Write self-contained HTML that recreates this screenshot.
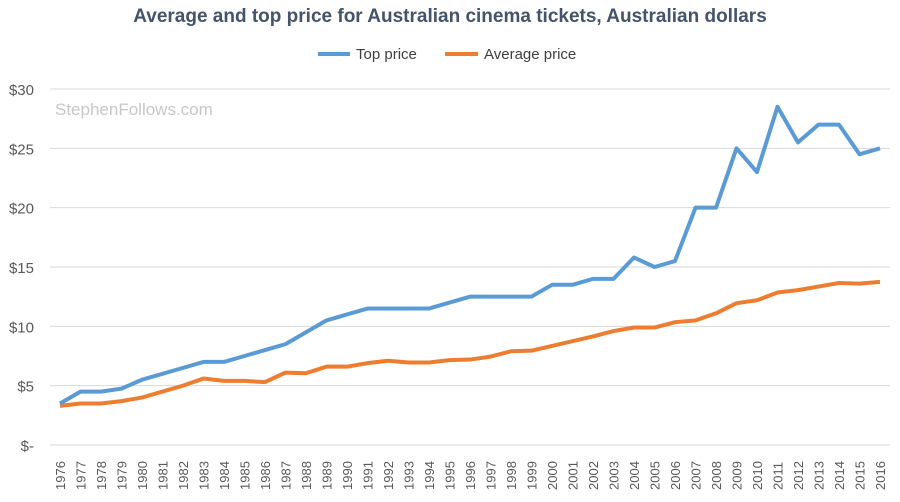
<!DOCTYPE html>
<html><head><meta charset="utf-8"><style>
body{margin:0;background:#fff;font-family:"Liberation Sans",sans-serif;}
</style></head><body>
<svg id="chart" width="900" height="497">
<text x="450" y="22" text-anchor="middle" font-size="19" font-weight="bold" fill="#44546a">Average and top price for Australian cinema tickets, Australian dollars</text>
<g>
<g><line x1="318" y1="54" x2="350" y2="54" stroke="#5b9bd5" stroke-width="4"/><text x="356" y="59" font-size="15" fill="#404040">Top price</text></g>
<g><line x1="445" y1="54" x2="478" y2="54" stroke="#ed7d31" stroke-width="4"/><text x="484" y="59" font-size="15" fill="#404040">Average price</text></g>
</g>
<text x="55" y="115" font-size="17" fill="#c8c8c8">StephenFollows.com</text>
<g id="grid"></g><g id="yt"></g><g id="xt"></g><g id="series"></g>
</svg>
<script>
const years=[];for(let y=1976;y<=2016;y++)years.push(y);
const topPrice=[3.5,4.5,4.5,4.75,5.5,6,6.5,7,7,7.5,8,8.5,9.5,10.5,11,11.5,11.5,11.5,11.5,12,12.5,12.5,12.5,12.5,13.5,13.5,14,14,15.8,15,15.5,20,20,25,23,28.5,25.5,27,27,24.5,25];
const avgPrice=[3.3,3.5,3.5,3.7,4,4.5,5,5.6,5.4,5.4,5.3,6.1,6.05,6.6,6.6,6.9,7.1,6.95,6.95,7.15,7.2,7.45,7.9,7.95,8.35,8.75,9.15,9.6,9.9,9.9,10.35,10.5,11.1,11.95,12.2,12.85,13.05,13.35,13.65,13.6,13.75];
const yTicks=[0,5,10,15,20,25,30];
const yLabels=["$-","$5","$10","$15","$20","$25","$30"];
const NS="http://www.w3.org/2000/svg";
const x=i=>60+i*(820/40);
const y=v=>445-v*(356/30);
function mk(t,a,p){const e=document.createElementNS(NS,t);for(const k in a)e.setAttribute(k,a[k]);document.getElementById(p).appendChild(e);return e;}
yTicks.forEach((v,i)=>{
 const g=mk('line',{x1:50,x2:890,y1:y(v),y2:y(v),stroke:'#d9d9d9','stroke-width':1},'grid');
 
 
 const t=mk('text',{x:34,y:y(v)+6,'text-anchor':'end','font-size':15,fill:'#595959'},'yt');
 t.textContent=yLabels[i];
 
 
});
years.forEach((yr,i)=>{
 const t=mk('text',{transform:`translate(${x(i)+5},490) rotate(-90)`,'font-size':13,fill:'#595959'},'xt');
 t.textContent=yr;
 
 
});
function line(d,c,n){
 const p=mk('polyline',{points:d.map((v,i)=>x(i)+','+y(v)).join(' '),fill:'none',stroke:c,'stroke-width':4,'stroke-linejoin':'round'},'series');
 
 
}
line(avgPrice,'#ed7d31','average-price-line');
line(topPrice,'#5b9bd5','top-price-line');
</script>
</body></html>
